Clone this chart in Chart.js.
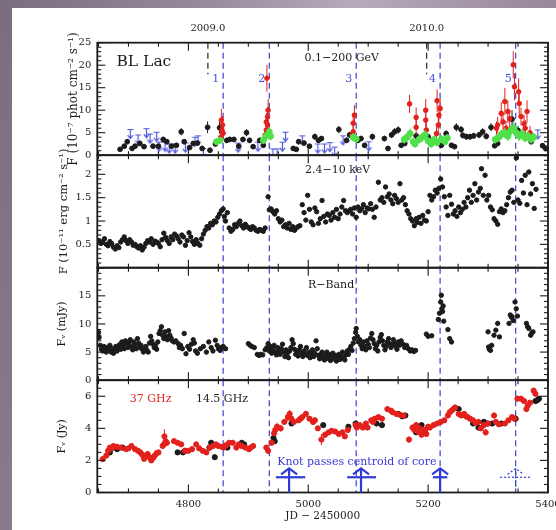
<!DOCTYPE html>
<html>
<head>
<meta charset="utf-8">
<script src="https://cdn.jsdelivr.net/npm/chart.js@4.4.1/dist/chart.umd.min.js"></script>
<style>
  html, body { margin: 0; padding: 0; width: 556px; height: 530px; overflow: hidden; }
  body { position: relative; background: linear-gradient(100deg, #7a6d80 0%, #958899 30%, #b7aabb 55%, #9b8d9f 80%, #8a7c8e 100%); }
  #paper { position: absolute; left: 12px; top: 8px; right: 0; bottom: 0; background: #fff; }
  canvas { position: absolute; left: 0; top: 0; }
</style>
</head>
<body>
<div id="paper"></div>
<canvas id="gamma" width="556" height="530"></canvas>
<canvas id="xray" width="556" height="530"></canvas>
<canvas id="optical" width="556" height="530"></canvas>
<canvas id="radio" width="556" height="530"></canvas>
<script>
/*
-------------------------------------
/// data
-------------------------------------
*/
const jdMin = 4648, jdMax = 5400;
const jdTicks = [4800, 5000, 5200, 5400];
const yearTicks = [4832.5, 5197.5];
const yearLabels = ['2009.0', '2010.0'];
const flareJD = [4858, 4935, 5080, 5220, 5346];
const flareNames = ['1', '2', '3', '4', '5'];

const gammaTicks = [0, 5, 10, 15, 20, 25];
const xrayTicks = [0.5, 1, 1.5, 2];
const optTicks = [0, 5, 10, 15];
const radioTicks = [0, 2, 4, 6];

// 0.1-200 GeV
const gammaJD = [4686,4693,4698,4706,4711,4719,4726,4741,4750,4758, 4764,4772,4780,4788,4793,4802,4808,4815,4823,4832,
  4836,4845,4852,4864,4869,4876,4884,4891,4897,4902, 4908,4919,4925,4975,4980,4984,4993,5002,5011,5017,
  5022,5051,5064,5069,5083,5088,5094,5107,5127,5133, 5139,5144,5150,5155,5161,5180,5200,5202,5222,5230,
  5239,5244,5247,5255,5258,5264,5270,5276,5285,5291, 5297,5305,5311,5316,5340,5350,5360,5372,5391,5396];
const gammaF = [1.3,2.0,3.0,1.5,2.0,2.6,1.9,2.0,2.0,3.5, 3.0,2.0,2.2,5.2,3.0,1.7,2.6,2.7,1.5,6.2,
  1.1,2.5,6.1,3.3,3.5,3.5,2.0,3.5,5.0,3.3, 1.9,3.3,2.2,1.5,1.3,3.0,2.7,2.0,4.1,3.3,
  3.7,5.7,3.3,4.5,3.3,3.7,2.2,4.1,3.7,1.5, 4.5,5.2,5.6,2.2,2.6,4.3,4.1,3.3,2.2,4.8,
  2.2,1.9,6.2,5.7,4.4,4.1,4.1,4.3,4.5,5.2, 4.2,6.2,2.1,2.6,8.0,5.5,4.5,3.0,2.1,1.5];
const gammaErr = [0.4,0.5,0.6,0.4,0.5,0.5,0.4,0.5,0.5,0.6, 0.6,0.5,0.5,0.8,0.6,0.4,0.5,0.5,0.4,1.3,
  0.4,0.5,1.3,0.6,0.6,0.6,0.5,0.6,0.8,0.6, 0.4,0.6,0.5,0.4,0.4,0.6,0.5,0.5,0.7,0.6,
  0.6,0.8,0.6,0.7,0.6,0.6,0.5,0.7,0.6,0.4, 0.7,0.8,0.8,0.5,0.5,0.7,0.7,0.6,0.5,0.7,
  0.5,0.4,0.9,0.8,0.7,0.7,0.7,0.7,0.7,0.8, 0.7,0.9,0.5,0.5,2.0,1.0,0.8,0.6,0.5,0.4];

const gRedJD = [4854,4856,4857,4855,4858, 4928,4930,4932,4930,4932,4933,4931, 5073,5075,5075,5077,
  5169,5180,5180,5196,5196,5197,5214,5217,5218,5220,5215,
  5314,5316,5322,5325,5328,5330,5333,5336,5342,5344,5351,5352,5355,5360,5362,5365,5370];
const gRedF = [4.0,5.6,6.7,7.8,4.9, 4.5,5.6,6.7,7.4,8.5,10.0,17.1, 4.5,5.2,7.1,8.9,
  11.4,8.4,6.2,10.0,7.8,5.6,4.8,6.7,8.9,10.4,12.1,
  6.0,6.7,9.3,7.4,11.9,6.0,9.7,8.1,20.1,15.2,14.1,11.5,8.6,7.0,6.0,9.7,5.0];
const gRedErr = [1.2,1.5,2.0,2.5,1.5, 1.2,1.5,1.8,2.0,2.2,2.5,3.0, 1.2,1.5,2.0,2.2,
  2.0,2.2,1.8,2.5,2.0,1.8,1.5,2.0,2.2,2.2,2.5,
  1.5,1.8,2.5,2.0,3.0,1.6,2.5,2.0,3.0,3.0,3.0,2.5,2.0,2.0,1.8,2.5,1.5];

const gGrnJD = [4847,4853,4925,4929,4935,4937, 5075,5080,
  5160,5165,5170,5175,5178,5185,5190,5195,5200,5205,5210,5215,5222,5228,5232,
  5312,5318,5322,5328,5333,5338,5343,5347,5352,5357,5362,5367,5372,5376];
const gGrnF = [3.0,3.3,3.3,4.2,5.2,4.2, 4.0,3.6,
  3.5,4.0,4.8,3.0,2.5,3.5,4.0,4.5,3.2,2.5,3.5,2.8,3.6,3.0,3.8,
  3.5,4.0,4.6,5.0,4.2,5.5,6.0,5.0,4.2,4.8,3.8,4.2,3.5,4.0];
const gGrnErr = [0.7,0.7,0.8,0.9,1.0,0.9, 0.9,0.8,
  0.9,1.0,1.1,0.9,0.8,0.9,1.0,1.0,0.8,0.8,0.9,0.8,0.9,0.8,0.9,
  0.9,1.0,1.0,1.1,1.0,1.1,1.3,1.1,1.0,1.0,0.9,1.0,0.9,1.0];
const gGrnBin = 3.5;

const gLimJD = [4703,4716,4730,4736,4747,4751,4761,4768,4778,4795, 4811,4816,4825,4883,4916,4941,4948,4957,4962,4990,
  5016,5027,5036,5044,5058,5101,5383];
const gLimF = [4.7,3.5,4.9,3.7,4.1,1.9,1.9,1.5,1.5,1.7, 3.0,3.3,0.5,1.7,1.9,0.4,0.4,1.9,4.1,3.3,
  1.5,1.5,1.8,0.8,3.3,2.0,4.6];

// 2.4-10 keV
const xrayJD = [4651,4654,4657,4660,4663,4666,4669,4672,4675,4678, 4681,4684,4687,4690,4693,4696,4699,4702,4705,4708,
  4711,4714,4717,4720,4723,4726,4729,4732,4735,4738, 4741,4744,4747,4750,4753,4756,4759,4762,4765,4768,
  4771,4774,4777,4780,4783,4786,4789,4792,4795,4798, 4801,4804,4807,4810,4813,4816,4819,
  4822,4825,4828,4831,4834,4837,4840,4843,4846,4849, 4852,4855,4858,4860,4862,4865,4868,4871,4874,4877,
  4880,4883,4886,4889,4892,4895,4898,4901,4904,4907, 4910,4913,4916,4919,4922,4925,4928,
  4933,4935,4938,4941,4944,4947,4950,4953,4956,4959, 4962,4965,4968,4971,4974,4977,4980,4983,4986,4990,
  4993,4996,4999,5002,5005,5008,5011,5014,5017,5020, 5023,5026,5029,5032,5035,5038,5041,5044,5047,5050,
  5053,5056,5059,5062,5065,5068,5071,5074,5077,5080,
  5083,5086,5089,5092,5095,5098,5101,5104,5107,5110, 5113,5117,5120,5123,5126,5129,5132,5135,5138,5141,
  5144,5147,5150,5153,5156,5159,5162,5165,5168,5171, 5174,5177,5180,5182,5185,5188,5191,5194,5197,5200,
  5203,5206,5209,5212,5215,5218,5221,5224,5227,5230, 5233,
  5236,5239,5242,5245,5248,5251,5254,5257,5260,5263, 5266,5269,5272,5275,5278,5281,5284,5287,5289,5292,
  5295,5298,5301,5304,5307,5310,5313,5316,5319,5322, 5325,5328,5331,5334,5337,5340,5343,5347,5350,5353,
  5356,5359,5362,5365,5368,5371,5374,5377,5380];
const xrayF = [0.58,0.52,0.55,0.62,0.50,0.47,0.56,0.52,0.44,0.40, 0.47,0.43,0.55,0.60,0.66,0.58,0.52,0.60,0.55,0.48,
  0.50,0.45,0.42,0.47,0.38,0.44,0.52,0.58,0.55,0.62, 0.50,0.57,0.55,0.52,0.45,0.60,0.74,0.65,0.58,0.52,
  0.66,0.60,0.72,0.68,0.62,0.55,0.70,0.66,0.48,0.58, 0.75,0.66,0.56,0.50,0.60,0.52,0.48,
  0.62,0.72,0.80,0.88,0.85,0.95,0.92,1.00,0.98,1.08, 1.15,1.22,1.26,1.10,1.00,1.18,0.85,0.78,0.82,0.92,
  0.88,0.95,1.00,0.90,0.85,0.93,0.88,0.85,0.82,0.88, 0.85,0.80,0.78,0.82,0.80,0.78,0.85,
  1.52,1.24,1.26,1.20,1.15,1.22,1.05,0.98,1.02,0.88, 0.92,0.85,0.95,0.82,0.88,0.80,0.85,0.88,0.90,1.35,
  1.18,1.02,1.55,1.25,0.98,0.92,1.28,1.20,0.95,1.05, 1.44,1.10,0.98,1.15,1.12,1.02,1.18,1.08,1.25,1.05,
  1.15,1.30,1.44,1.22,1.18,1.22,1.25,1.15,1.28,1.08,
  1.30,1.22,1.26,1.35,1.18,1.28,1.26,1.37,1.25,1.08, 1.30,1.83,1.45,1.50,1.40,1.73,1.52,1.58,1.45,1.37,
  1.55,1.48,1.40,1.80,1.45,1.50,1.35,1.22,1.15,1.05, 1.00,0.90,1.05,0.97,1.08,0.95,1.12,1.02,1.00,1.20,
  1.55,1.45,1.52,1.66,1.60,1.70,1.90,1.73,1.52,1.30, 1.12,
  1.55,1.36,1.15,1.22,1.10,1.30,1.18,1.25,1.40,1.30, 1.50,1.66,1.40,1.55,1.80,1.45,1.62,1.70,2.12,1.55,
  1.98,1.45,1.55,1.30,1.24,1.05,1.00,0.93,1.20,1.26, 1.18,1.22,1.35,1.50,1.62,1.66,1.40,2.35,1.45,1.38,
  1.87,1.60,1.98,1.35,2.05,1.58,1.80,1.27,1.68];

// R-band
const optJD = [4650,4651,4653,4655,4657,4659,4661,4663,4665,4667, 4669,4671,4673,4675,4677,4679,4681,4683,4685,4687,
  4689,4691,4693,4695,4697,4699,4701,4703,4705,4707, 4709,4711,4713,4715,4717,4719,4721,4723,4725,4727,
  4729,4731,4733,4735,4737,4739,4741,4743,4745,4747, 4749,4751,4753,4755,4757,4759,4761,4763,4765,4767,
  4769,4771,4773,4776,4779,4783,4785,4787,4790,4793, 4796,4799,4802,4805,4808,4810,4812,4815,4820,4825,
  4830,4834,4838,4841,4845,4848,4850,4853,4855,4858, 4862,
  4900,4903,4906,4910,4915,4918,4921,4924,4928,
  4931,4933,4935,4937,4939,4941,4943,4945,4947,4949, 4951,4953,4955,4957,4959,4961,4963,4965,4967,4969,
  4971,4973,4975,4977,4979,4981,4983,4985,4987,4989, 4991,4993,4995,4997,4999,5001,5003,5005,5007,5009,
  5011,5013,5015,5017,5019,5021,5023,5025,5027,5029, 5031,5033,5035,5037,5039,5041,5043,5045,5047,5049,
  5051,5053,5055,5057,5059,5061,5063,5065,5067,5069, 5071,5073,5075,5077,5079,5080,
  5082,5084,5086,5088,5090,5092,5094,5096,5098,5100, 5102,5104,5106,5108,5110,5112,5114,5116,5118,5120,
  5122,5124,5126,5128,5130,5132,5134,5136,5138,5140, 5142,5144,5146,5148,5150,5152,5155,5158,5161,5164,
  5167,5170,5173,5176,5179,
  5197,5200,5206,5217,5219,5221,5222,5223,5224,5225, 5226,5233,5236,5239,5300,5301,5302,5304,5306,5310,
  5313,5316,5319,5335,5337,5339,5340,5342,5345,5347, 5349,5364,5366,5368,5371,5373,5375];
const optF = [8.5,7.6,6.2,5.5,5.2,6.0,5.4,5.0,5.8,5.3, 6.2,5.0,5.6,4.8,5.5,6.0,5.2,5.8,6.3,5.5,
  6.8,6.2,5.6,7.0,6.5,5.8,6.7,7.2,6.0,5.4, 6.8,6.2,5.6,7.4,6.6,5.8,6.2,5.5,5.0,5.6,
  6.0,5.3,5.0,6.6,7.8,7.0,6.4,5.8,6.2,5.5, 6.8,8.3,8.8,9.5,8.0,7.4,8.6,7.8,7.2,8.8,
  8.0,7.5,7.0,6.8,7.0,6.5,5.8,6.2,5.6,8.3, 4.7,6.0,5.5,6.4,7.2,6.6,5.2,4.8,5.6,6.0,
  5.0,6.8,5.8,5.2,7.1,6.2,5.6,5.3,5.8,6.0, 5.6,
  6.5,6.2,6.0,5.8,4.6,4.4,4.6,4.5,5.4,
  5.8,6.5,5.2,6.0,4.8,5.5,6.2,5.0,4.5,5.8, 5.2,4.6,5.6,6.4,5.0,4.2,5.4,4.8,4.0,5.2,
  5.8,7.2,6.5,5.5,4.6,5.0,4.3,5.4,6.0,4.8, 4.2,5.2,4.6,5.8,4.4,5.0,4.0,4.8,5.4,4.2,
  4.8,7.0,5.6,4.4,3.8,4.6,5.0,4.1,3.6,4.4, 5.0,3.9,4.6,3.5,4.2,4.8,3.8,4.4,3.4,4.0,
  4.6,3.7,4.3,5.0,4.0,3.6,4.5,5.2,4.6,5.5, 6.0,5.3,6.6,7.4,8.5,9.2,
  7.8,6.8,7.2,6.2,5.6,6.8,6.0,5.4,7.0,6.4, 5.8,7.5,8.3,7.2,6.5,5.6,6.2,5.2,6.8,7.6,
  8.1,7.0,6.2,5.4,6.0,6.8,7.4,6.5,5.8,6.3, 7.2,6.6,6.0,5.5,6.8,6.2,7.0,6.4,5.8,6.2,
  5.6,5.2,5.4,5.1,5.3,
  8.2,7.8,7.9,10.8,11.9,13.9,15.1,12.7,12.2,13.2, 10.5,9.0,7.4,6.8,8.6,5.9,5.5,5.3,6.2,8.0,
  8.9,10.1,7.7,10.1,11.6,11.2,11.3,10.6,13.9,12.7, 11.4,10.1,9.5,9.2,8.0,8.4,8.6];

// radio: 37 GHz (red) and 14.5 GHz (black)
const r37JD = [4657,4663,4669,4675,4687,4696,4705,4711,4720,4729, 4735,4738,4744,4750,4759,4760,4764,4776,4782,4794,
  4806,4813,4824,4830,4841,4850,4859,4868,4874,4880, 4889,4901,4908,4930,4933,4939,4945,4948,4954,4966,
  4969,4972,4984,4990,4996,5008,5011,5022,5028,5034, 5039,5051,5057,5061,5079,5081,5091,5099,5105,5111,
  5117,5123,5132,5138,5147,5159,5168,5174,5180,5186, 5192,5197,5203,5209,5221,5227,5236,5242,5245,5251,
  5260,5266,5275,5284,5293,5296,5310,5313,5328,5340, 5349,5355,5364,5370,5376,5379,
  4666,4672,4681,4700,4716,4723,4726,4732,4741,4747, 4757,4762,4788,4800,4818,4836,4846,4856,4863,4884,
  4895,4904,4943,4960,4976,4987,5002,5016,5045,5066, 5086,5096,5108,5141,5153,5177,5183,5189,5195,5200,
  5215,5233,5239,5255,5263,5270,5279,5288,5300,5318, 5334,5344,5360,5366];
const r37F = [2.08,2.3,2.8,2.9,2.8,2.7,2.9,2.7,2.5,2.3, 2.2,2.0,2.3,2.5,3.0,3.5,3.1,3.2,3.1,2.6,
  2.7,3.0,2.6,2.5,2.9,2.9,2.8,3.1,3.1,2.8, 2.9,2.7,2.9,2.8,2.6,3.1,3.9,4.1,4.0,4.7,
  4.9,4.6,4.5,4.7,4.9,4.4,4.5,3.3,3.6,3.75, 3.85,3.65,3.75,3.5,4.2,4.05,4.05,4.05,4.5,4.6,
  4.7,4.6,5.2,5.1,4.9,4.8,3.3,4.05,4.2,4.0, 3.75,3.65,4.05,4.2,4.4,4.5,5.0,5.2,5.3,4.9,
  4.9,4.7,4.5,4.4,4.2,3.75,4.8,4.4,4.3,4.7, 5.85,5.85,5.2,5.6,6.35,6.15,
  2.6,2.75,2.85,2.75,2.6,2.35,2.1,2.4,2.15,2.45, 2.9,3.2,3.0,2.6,2.75,2.8,3.0,2.85,2.95,3.0,
  2.8,2.8,3.7,4.4,4.4,4.6,4.6,4.0,3.8,3.9, 4.2,4.3,4.4,5.0,4.85,3.9,3.8,3.6,3.9,4.1,
  4.3,4.8,5.1,4.8,4.75,4.6,4.35,4.0,4.3,4.25, 4.5,4.6,5.7,5.4];
const r37Err = [0.15,0.15,0.15,0.12,0.12,0.12,0.12,0.12,0.15,0.15, 0.15,0.15,0.15,0.15,0.25,0.45,0.2,0.15,0.15,0.15,
  0.15,0.15,0.15,0.15,0.15,0.15,0.15,0.15,0.15,0.15, 0.15,0.15,0.15,0.15,0.2,0.2,0.25,0.25,0.2,0.3,
  0.25,0.2,0.15,0.15,0.15,0.2,0.2,0.35,0.2,0.15, 0.15,0.15,0.15,0.15,0.15,0.15,0.15,0.15,0.15,0.15,
  0.15,0.15,0.15,0.15,0.15,0.15,0.2,0.15,0.2,0.15, 0.15,0.15,0.15,0.15,0.15,0.15,0.15,0.15,0.15,0.15,
  0.15,0.15,0.15,0.15,0.2,0.2,0.2,0.15,0.15,0.15, 0.15,0.15,0.15,0.15,0.15,0.15];
const r14JD = [4669,4681,4690,4782,4791,4795,4835,4838,4844,4865, 4889,4893,4942,4944,4972,5025,5067,5079,5114,5123,
  5150,5157,5162,5180,5189,5251,5275,5284,5293,5299, 5307,5322,5346,5379,5382,5385];
const r14F = [2.5,2.7,2.8,2.5,2.5,2.6,2.8,3.1,2.2,2.8, 3.1,3.0,3.4,3.2,4.3,4.2,4.1,4.3,4.3,4.2,
  4.9,4.75,4.8,3.75,4.2,5.2,4.3,4.05,4.4,4.3, 4.3,4.3,4.6,5.7,5.75,5.85];

// knot passages through the core (epoch and range)
const knotJD = [4968, 5088, 5220, 5346];
const knotLo = [4946, 5065, 5208, 5320];
const knotHi = [4995, 5113, 5232, 5370];
const knotDotted = [false, false, false, true];

/*
-------------------------------------
/// helpers
-------------------------------------
*/
const serif = 'DejaVu Serif';
const ink = '#1b1b1b';
const blue = '#4650d2';
const red = '#e3201b';
const green = '#4fe04a';

function pts(xs, ys) {
  return xs.map((v, i) => ({x: v, y: ys[i]}));
}

function line(ctx, x1, y1, x2, y2) {
  ctx.beginPath();
  ctx.moveTo(x1, y1);
  ctx.lineTo(x2, y2);
  ctx.stroke();
}

// little blue upper-limit arrow
const limImg = document.createElement('canvas');
limImg.width = 9; limImg.height = 12;
(function(){
  const c = limImg.getContext('2d');
  c.strokeStyle = '#5058dc';
  c.lineWidth = 1.2;
  c.beginPath();
  c.moveTo(1.5, 1.5); c.lineTo(7.5, 1.5);
  c.moveTo(4.5, 1.5); c.lineTo(4.5, 10.5);
  c.moveTo(1.8, 7.2); c.lineTo(4.5, 10.5); c.lineTo(7.2, 7.2);
  c.stroke();
})();

/*
-------------------------------------
/// panels
-------------------------------------
*/
const panels = {
  gamma: {top: 42.7, bottom: 155.2, yMax: 25, ticks: gammaTicks, major: 5, minor: 1,
    title: 'F (10⁻⁷ phot cm⁻² s⁻¹)', titleSize: 12, titlePad: 16.5, years: true, flareLabels: true,
    notes: [
      {t: 'BL Lac', x: 4680, y: 20.7, color: ink, size: 15.5, align: 'left'},
      {t: '0.1−200 GeV', x: 5056, y: 21.6, color: ink, size: 11, align: 'center'}
    ]},
  xray: {top: 155.2, bottom: 267.7, yMax: 2.41, ticks: xrayTicks, major: 0.5, minor: 0.1,
    title: 'F (10⁻¹¹ erg cm⁻² s⁻¹)', titleSize: 11.5, titlePad: 7,
    notes: [{t: '2.4−10 keV', x: 5049, y: 2.1, color: ink, size: 11, align: 'center'}]},
  optical: {top: 267.7, bottom: 380.2, yMax: 20, ticks: optTicks, major: 5, minor: 1,
    title: 'Fᵥ (mJy)', titleSize: 11, titlePad: 5.5,
    notes: [{t: 'R−Band', x: 5038, y: 16.9, color: ink, size: 11, align: 'center'}]},
  radio: {top: 380.2, bottom: 492.5, yMax: 7, ticks: radioTicks, major: 2, minor: 0.5,
    title: 'Fᵥ (Jy)', titleSize: 11, titlePad: 5.5, knots: true, bottomAxis: true,
    notes: [
      {t: '37 GHz', x: 4737, y: 5.8, color: red, size: 11, align: 'center'},
      {t: '14.5 GHz', x: 4856, y: 5.8, color: ink, size: 11, align: 'center'},
      {t: 'Knot passes centroid of core', x: 5081, y: 1.9, color: '#3a3ad2', size: 11, align: 'center'}
    ]}
};

/*
-------------------------------------
/// drawing plugin: dashes, error bars, frame, ticks, notes
-------------------------------------
*/
const decor = {
  id: 'decor',
  beforeDatasetsDraw(chart) {
    const p = panels[chart.canvas.id];
    const {ctx, chartArea: a} = chart;
    const x = chart.scales.x, y = chart.scales.y;
    ctx.save();
    ctx.beginPath(); ctx.rect(a.left, a.top, a.width, a.height); ctx.clip();
    ctx.setLineDash([6, 4]);
    ctx.lineWidth = 1.3;
    ctx.strokeStyle = blue;
    flareJD.forEach(v => {
      const px = x.getPixelForValue(v);
      line(ctx, px, a.top, px, a.bottom);
    });
    if (p.years) {
      ctx.strokeStyle = '#333';
      yearTicks.forEach(v => {
        const px = x.getPixelForValue(v);
        line(ctx, px, a.top, px, y.getPixelForValue(18));
      });
    }
    ctx.restore();
  },
  beforeDatasetDraw(chart, args) {
    const ds = chart.data.datasets[args.index];
    if (!ds.errY) return;
    const meta = args.meta, ctx = chart.ctx, a = chart.chartArea;
    const ys = chart.scales[meta.yAxisID], xs = chart.scales[meta.xAxisID];
    ctx.save();
    ctx.beginPath(); ctx.rect(a.left, a.top, a.width, a.height); ctx.clip();
    ctx.strokeStyle = ds.backgroundColor;
    ctx.lineWidth = ds.barWidth || 1;
    meta.data.forEach((el, i) => {
      const e = ds.errY[i];
      if (e == null) return;
      const v = ds.data[i].y;
      line(ctx, el.x, ys.getPixelForValue(v - e), el.x, ys.getPixelForValue(v + e));
      if (ds.errX) {
        line(ctx, xs.getPixelForValue(ds.data[i].x - ds.errX), el.y, xs.getPixelForValue(ds.data[i].x + ds.errX), el.y);
      }
    });
    ctx.restore();
  },
  afterDatasetsDraw(chart) {
    const p = panels[chart.canvas.id];
    const {ctx, chartArea: a} = chart;
    const x = chart.scales.x, y = chart.scales.y;
    ctx.save();
    ctx.strokeStyle = ink;
    ctx.lineWidth = 1.1;
    for (let k = Math.ceil(x.min / 50); k * 50 <= x.max; k++) {
      const px = x.getPixelForValue(k * 50), len = k % 4 === 0 ? 8 : 4;
      line(ctx, px, a.top, px, a.top + len);
      line(ctx, px, a.bottom, px, a.bottom - len);
    }
    const n = Math.round(p.yMax / p.minor);
    for (let k = 0; k <= n; k++) {
      const v = k * p.minor;
      if (v > p.yMax) break;
      const r = v / p.major;
      const len = Math.abs(r - Math.round(r)) < 1e-6 ? 8 : 4;
      const py = y.getPixelForValue(v);
      line(ctx, a.left, py, a.left + len, py);
      line(ctx, a.right, py, a.right - len, py);
    }
    ctx.lineWidth = 1.8;
    ctx.strokeRect(a.left, a.top, a.width, a.height);

    ctx.textBaseline = 'middle';
    p.notes.forEach(nt => {
      ctx.font = nt.size + 'px "' + serif + '"';
      ctx.fillStyle = nt.color;
      ctx.textAlign = nt.align;
      ctx.fillText(nt.t, x.getPixelForValue(nt.x), y.getPixelForValue(nt.y));
    });

    if (p.flareLabels) {
      ctx.font = '11px "' + serif + '"';
      ctx.fillStyle = blue;
      ctx.textAlign = 'right';
      flareJD.forEach((v, i) => {
        ctx.fillText(flareNames[i], x.getPixelForValue(v) - 4, y.getPixelForValue(16.9));
      });
    }

    if (p.knots) {
      ctx.strokeStyle = '#2f3ad8';
      knotJD.forEach((k, i) => {
        const px = x.getPixelForValue(k);
        const yb = y.getPixelForValue(0.95), yt = y.getPixelForValue(1.5), y0 = y.getPixelForValue(0);
        ctx.setLineDash(knotDotted[i] ? [2, 2] : []);
        ctx.lineWidth = knotDotted[i] ? 1.2 : 2.2;
        line(ctx, x.getPixelForValue(knotLo[i]), yb, x.getPixelForValue(knotHi[i]), yb);
        line(ctx, px, yt, px, y0);
        ctx.beginPath();
        ctx.moveTo(px - 8, yt + 6);
        ctx.lineTo(px, yt);
        ctx.lineTo(px + 8, yt + 6);
        ctx.stroke();
      });
    }
    ctx.restore();
  }
};
Chart.register(decor);

Chart.defaults.font.family = serif;
Chart.defaults.color = ink;

const padLeft = 50;
const plotLeft = 97.3;

function makePanel(id, datasets) {
  const p = panels[id];
  const tickFont = {family: serif, size: 10};
  const scales = {
    x: {
      type: 'linear', position: 'bottom', min: jdMin, max: jdMax,
      display: !!p.bottomAxis,
      afterBuildTicks: s => { s.ticks = jdTicks.map(v => ({value: v})); },
      afterFit: s => {
        s.height = p.bottomAxis ? 530 - p.bottom : 0;
        s.paddingLeft = 0; s.paddingRight = 0;
      },
      grid: {display: false, drawTicks: false},
      border: {display: false},
      ticks: {padding: 6, autoSkip: false, maxRotation: 0, font: tickFont, color: ink, callback: v => String(v)},
      title: {display: true, text: 'JD − 2450000', color: ink, font: {family: serif, size: 10.5}, padding: {top: 0, bottom: 7}}
    },
    y: {
      type: 'linear', min: 0, max: p.yMax,
      afterBuildTicks: s => { s.ticks = p.ticks.map(v => ({value: v})); },
      afterFit: s => { s.width = plotLeft - padLeft; s.paddingTop = 0; s.paddingBottom = 0; },
      grid: {display: false, drawTicks: false},
      border: {display: false},
      ticks: {padding: 6, autoSkip: false, font: tickFont, color: ink, callback: v => String(v)},
      title: {display: true, text: p.title, color: ink, font: {family: serif, size: p.titleSize}, padding: {top: p.titlePad, bottom: 0}}
    }
  };
  if (p.years) {
    scales.xTop = {
      type: 'linear', position: 'top', min: jdMin, max: jdMax,
      afterBuildTicks: s => { s.ticks = yearTicks.map(v => ({value: v})); },
      afterFit: s => { s.height = p.top; s.paddingLeft = 0; s.paddingRight = 0; },
      grid: {display: false, drawTicks: false},
      border: {display: false},
      ticks: {padding: 8, autoSkip: false, maxRotation: 0, font: tickFont, color: ink,
        callback: v => yearLabels[yearTicks.indexOf(v)]}
    };
  }
  return new Chart(document.getElementById(id), {
    type: 'scatter',
    data: {datasets: datasets},
    options: {
      responsive: false,
      animation: false,
      devicePixelRatio: 1,
      layout: {padding: {left: padLeft, right: 8, top: p.years ? 0 : p.top, bottom: p.bottomAxis ? 0 : 530 - p.bottom}},
      plugins: {legend: {display: false}, tooltip: {enabled: false}},
      scales: scales
    }
  });
}

/*
-------------------------------------
/// charts
-------------------------------------
*/
makePanel('gamma', [
  {data: pts(gGrnJD, gGrnF), errY: gGrnErr, errX: gGrnBin, backgroundColor: green, borderColor: green, pointRadius: 3, barWidth: 1.6},
  {data: pts(gRedJD, gRedF), errY: gRedErr, backgroundColor: red, borderColor: red, pointRadius: 2.3},
  {data: pts(gammaJD, gammaF), errY: gammaErr, backgroundColor: ink, borderColor: ink, pointRadius: 2.4},
  {data: pts(gLimJD, gLimF), pointStyle: limImg, pointRadius: 5}
]);

makePanel('xray', [
  {data: pts(xrayJD, xrayF), backgroundColor: ink, borderColor: ink, pointRadius: 2.2}
]);

makePanel('optical', [
  {data: pts(optJD, optF), backgroundColor: ink, borderColor: ink, pointRadius: 2.2}
]);

makePanel('radio', [
  {data: pts(r37JD, r37F), errY: r37Err, backgroundColor: red, borderColor: red, pointRadius: 2.6},
  {data: pts(r14JD, r14F), backgroundColor: ink, borderColor: ink, pointRadius: 2.6}
]);
</script>
</body>
</html>
